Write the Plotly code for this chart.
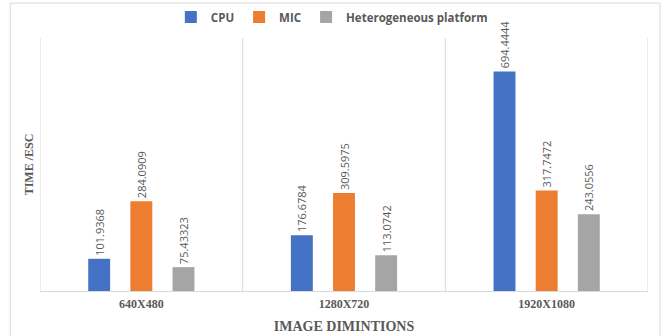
import plotly.graph_objects as go

# Processing time per image size on each platform
categories = ["640X480", "1280X720", "1920X1080"]
cpu = [101.9368, 176.6784, 694.4444]
mic = [284.0909, 309.5975, 317.7472]
hetero = [75.43323, 113.0742, 243.0556]

series = [
    ("CPU", cpu, "#4472C4"),
    ("MIC", mic, "#ED7D31"),
    ("Heterogeneous platform", hetero, "#A5A5A5"),
]

fig = go.Figure()
for name, vals, color in series:
    fig.add_trace(go.Bar(
        name=name,
        x=categories,
        y=vals,
        marker=dict(color=color, line=dict(width=0)),
        text=[str(v) for v in vals],
        textposition="outside",
        textangle=-90,
        constraintext="none",
        textfont=dict(family="Open Sans", size=11, color="#595959"),
        cliponaxis=False,
    ))

serif = "Liberation Serif"
grey_line = "#D9D9D9"

shapes = []
# category separators
for b in [-0.5, 0.5, 1.5, 2.5]:
    shapes.append(dict(type="line", xref="x", yref="paper", x0=b, x1=b, y0=0, y1=1,
                       line=dict(color=grey_line, width=1)))
# chart frame
shapes.append(dict(type="rect", xref="paper", yref="paper",
                   x0=-0.049, x1=1.0197, y0=-0.5, y1=1.138,
                   line=dict(color="#D9D9D9", width=1), fillcolor="rgba(0,0,0,0)", layer="below"))

fig.update_layout(
    width=662, height=336,
    margin=dict(l=40, r=14, t=38, b=45, autoexpand=False),
    paper_bgcolor="white", plot_bgcolor="white",
    barmode="group", bargap=0.376, bargroupgap=0.48,
    showlegend=True,
    legend=dict(orientation="h", x=0.48, xanchor="center", y=1.14, yanchor="top",
                bgcolor="rgba(0,0,0,0)",
                font=dict(family="Open Sans", size=11.5, color="#595959", weight="bold"),
                itemwidth=30, traceorder="normal"),
    xaxis=dict(
        showline=True, linecolor=grey_line, linewidth=1,
        showgrid=False, ticks="", range=[-0.5, 2.5], ticklabelstandoff=2,
        tickfont=dict(family=serif, size=12, color="#595959", weight="bold"),
        title=dict(text="IMAGE DIMINTIONS", standoff=10,
                   font=dict(family=serif, size=14, color="#595959", weight="bold")),
    ),
    yaxis=dict(
        range=[0, 800], showgrid=False, zeroline=False, showticklabels=False, ticks="",
        title=dict(text="TIME /ESC", standoff=2,
                   font=dict(family=serif, size=12, color="#595959", weight="bold")),
    ),
    shapes=shapes,
)

fig.write_html("out.html")
